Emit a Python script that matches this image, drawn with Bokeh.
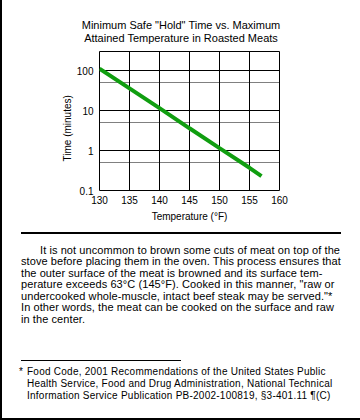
import html
from bokeh.plotting import figure
from bokeh.layouts import column
from bokeh.models import (FixedTicker, CustomJSTickFormatter, Grid, Div, Title)
from bokeh.embed import file_html
from bokeh.resources import INLINE

# ---- data (straight line on the log scale) ----
temps_f = [130, 135, 140, 145, 150, 155, 157]
hold_minutes = [112, 36, 11.5, 3.6, 1.15, 0.37, 0.23]
x_ticks = [130, 135, 140, 145, 150, 155, 160]
y_ticks = [0.1, 1, 10, 100]
y_dotted = [0.5, 5, 50]

title_lines = ['Minimum Safe "Hold" Time vs. Maximum',
               'Attained Temperature in Roasted Meats']
x_label = "Temperature (\u00b0F)"
y_label = "Time (minutes)"
para_lines = [
    "It is not uncommon to brown some cuts of meat on top of the",
    "stove before placing them in the oven. This process ensures that",
    "the outer surface of the meat is browned and its surface tem-",
    "perature exceeds 63\u00b0C (145\u00b0F). Cooked in this manner, \"raw or",
    "undercooked whole-muscle, intact beef steak may be served.\"*",
    "In other words, the meat can be cooked on the surface and raw",
    "in the center.",
]
foot_mark = "*"
foot_lines = [
    "Food Code, 2001 Recommendations of the United States Public",
    "Health Service, Food and Drug Administration, National Technical",
    "Information Service Publication PB-2002-100819, \u00a73-401.11 \u00b6(C)",
]

FONT = "Liberation Sans"
BORDER = 2
W = 358
HEAD_H, CHART_H, TEXT_H = 50, 180, 188
TEXT_TOP = HEAD_H + CHART_H


def line_html(txt, left, cy, size=11, spacing=0.0, width=None, align="left", lh=12):
    w = f"width:{width}px;" if width else ""
    return (f'<div style="position:absolute;left:{left}px;top:{cy - lh / 2:.1f}px;{w}'
            f'text-align:{align};line-height:{lh}px;white-space:pre;color:black;'
            f"font-family:'{FONT}';font-size:{size}px;letter-spacing:{spacing}px;\">"
            f"{html.escape(txt, quote=False)}</div>")


def rule_html(x0, x1, y0, h):
    return (f'<div style="position:absolute;left:{x0}px;top:{y0}px;width:{x1 - x0}px;'
            f'height:{h}px;background:black;"></div>')


def block(parts, h):
    return ('<div style="position:relative;width:%dpx;height:%dpx;margin:0;padding:0;">' % (W, h)
            + "".join(parts) + "</div>")


# ---- header (page y 0..50) ----
head_parts = [line_html(title_lines[0], 0, 24.7, 11, 0, W, "center"),
              line_html(title_lines[1], 0, 38.3, 11, 0, W, "center")]
head = Div(text=block(head_parts, HEAD_H), width=W, height=HEAD_H, margin=0)

# ---- chart (page y 50..230; frame 51..190) ----
FL, FW, FH = 99 - BORDER, 180, 139
p = figure(width=W, height=CHART_H, output_backend="svg", toolbar_location=None,
           x_range=(130, 160), y_range=(0.1, 300), y_axis_type="log",
           min_border_left=FL, min_border_right=W - FL - FW,
           min_border_top=1, min_border_bottom=CHART_H - FH - 1,
           background_fill_color="white", border_fill_color="white", margin=0)
p.title.visible = False
p.outline_line_color = "black"
p.outline_line_width = 1

p.xgrid.ticker = FixedTicker(ticks=x_ticks)
p.ygrid.ticker = FixedTicker(ticks=y_ticks)
for g in (p.xgrid[0], p.ygrid[0]):
    g.grid_line_color = "black"
    g.grid_line_width = 1
    g.grid_line_alpha = 1
p.add_layout(Grid(dimension=1, ticker=FixedTicker(ticks=y_dotted),
                  grid_line_color="black", grid_line_width=1,
                  grid_line_dash="1 1"))

for ax in (p.xaxis[0], p.yaxis[0]):
    ax.axis_line_color = None
    ax.major_tick_line_color = None
    ax.minor_tick_line_color = None
    ax.major_tick_out = 0
    ax.major_tick_in = 0
    ax.minor_tick_out = 0
    ax.minor_tick_in = 0
    ax.major_label_text_font = FONT
    ax.major_label_text_font_size = "10px"
    ax.major_label_text_color = "black"
    ax.axis_label_text_font = FONT
    ax.axis_label_text_font_size = "10px"
    ax.axis_label_text_font_style = "normal"
    ax.axis_label_text_color = "black"
p.xaxis.ticker = FixedTicker(ticks=x_ticks)
p.yaxis.ticker = FixedTicker(ticks=y_ticks)
p.yaxis.formatter = CustomJSTickFormatter(code="return tick < 1 ? tick.toFixed(1) : tick.toFixed(0);")
p.xaxis.axis_label = x_label
p.xaxis.major_label_standoff = 5
p.xaxis.axis_label_standoff = 4
p.yaxis.major_label_standoff = 6
p.add_layout(Title(text=y_label, align="left", offset=29, standoff=1,
                   text_font=FONT, text_font_size="10px", text_font_style="normal",
                   text_color="black"), "left")

p.line(temps_f, hold_minutes, line_color="#109e10", line_width=4)


# ---- text block (page y 230..418) ----
def ty(y):
    return y - TEXT_TOP


def tx(x):
    return x - BORDER


parts = [rule_html(tx(21), tx(341), ty(231.5), 2)]
para_y = [250, 261.3, 272.7, 284, 295.7, 307, 318.5]
for i, (s, y) in enumerate(zip(para_lines, para_y)):
    parts.append(line_html(s, tx(40 if i == 0 else 21), ty(y), 11, 0.08))
parts.append(rule_html(tx(21), tx(181), ty(359.5), 1.5))
parts.append(line_html(foot_mark, tx(19), ty(372.3), 10))
foot_y = [372.3, 384.3, 396]
for s, y in zip(foot_lines, foot_y):
    parts.append(line_html(s, tx(27), ty(y), 10, 0.25))
body = Div(text=block(parts, TEXT_H), width=W, height=TEXT_H, margin=0)

page = column(head, p, body, spacing=0,
              styles={"border-left": "2px solid black", "border-bottom": "2px solid black"})

open("out.html", "w").write(file_html(page, INLINE))
